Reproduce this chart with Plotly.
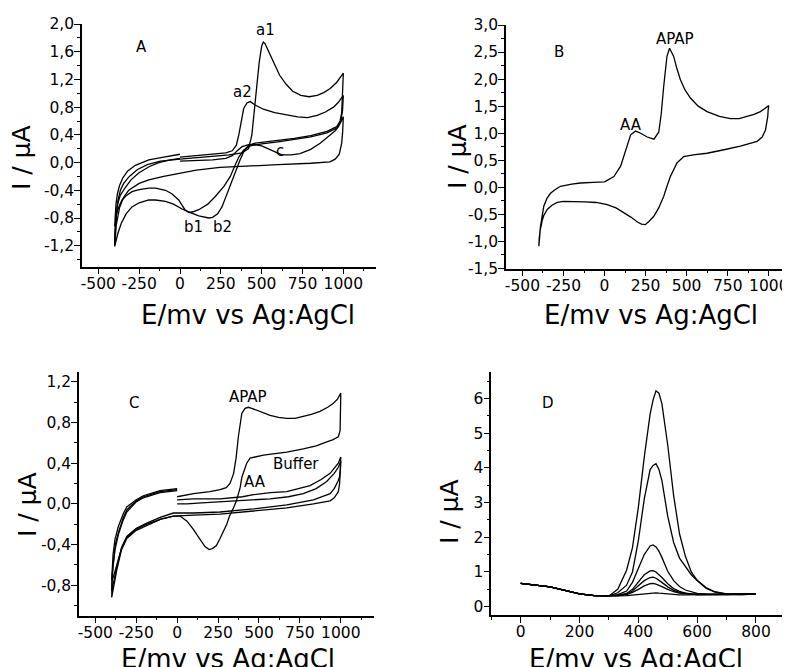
import plotly.graph_objects as go

W, H = 790, 667
OFF = 8  # the page body margin shifts the figure by this many pixels

# ---------------- Panel A : three cyclic voltammograms ----------------
a1_E = [0, 100, 200, 300, 380, 420, 440, 455, 470, 485, 500, 510, 520, 540, 570, 610, 650, 690, 740, 790, 840, 880, 920, 960, 1000,
        998, 995, 990, 980, 960, 900, 800, 700, 600, 520, 460, 420, 395, 370, 345, 320, 300, 280, 257, 230, 200, 176, 150, 115, 60, 13,
        -40, -89, -150, -191, -250, -294, -330, -360, -380, -395, -400,
        -398, -392, -382, -365, -335, -300, -253, -190, -130, -60, 0]
a1_I = [0.05, 0.07, 0.09, 0.11, 0.14, 0.2, 0.4, 0.75, 1.1, 1.45, 1.68, 1.74, 1.72, 1.62, 1.45, 1.26, 1.13, 1.03, 0.97, 0.95, 0.97, 1.01, 1.07, 1.16, 1.29,
        1.1, 0.9, 0.72, 0.6, 0.52, 0.45, 0.39, 0.35, 0.32, 0.3, 0.28, 0.25, 0.18, 0.05, -0.1, -0.25, -0.38, -0.5, -0.64, -0.74, -0.79, -0.8, -0.79, -0.77, -0.72, -0.67,
        -0.6, -0.56, -0.54, -0.54, -0.58, -0.64, -0.74, -0.88, -1.02, -1.15, -1.21,
        -1.0, -0.78, -0.6, -0.47, -0.36, -0.25, -0.15, -0.06, 0.0, 0.04, 0.06]

a2_E = [0, 100, 200, 280, 320, 345, 360, 375, 390, 410, 430, 460, 510, 580, 650, 720, 780, 840, 890, 940, 970, 1000,
        995, 985, 960, 900, 800, 700, 600, 500, 430, 390, 360, 330, 308, 270, 216, 170, 115, 80, 54, 30, -8, -50, -89, -150, -191,
        -250, -294, -330, -355, -375, -390, -400,
        -398, -392, -383, -370, -350, -320, -273, -191, -100, -28, 0]
a2_I = [0.08, 0.1, 0.12, 0.14, 0.17, 0.25, 0.4, 0.6, 0.78, 0.86, 0.88, 0.83, 0.77, 0.72, 0.69, 0.66, 0.65, 0.68, 0.73, 0.8, 0.87, 0.97,
        0.75, 0.6, 0.5, 0.43, 0.37, 0.33, 0.3, 0.27, 0.24, 0.18, 0.08, -0.08, -0.2, -0.34, -0.49, -0.6, -0.68, -0.71, -0.72, -0.68, -0.54, -0.45, -0.4, -0.37, -0.37,
        -0.39, -0.42, -0.48, -0.54, -0.64, -0.76, -0.92,
        -0.8, -0.6, -0.45, -0.33, -0.22, -0.12, -0.04, 0.04, 0.08, 0.11, 0.12]

c_E = [0, 100, 200, 280, 320, 350, 380, 420, 460, 500, 550, 590, 623, 680, 735, 800, 858, 910, 950, 970, 990, 1000,
       996, 990, 975, 950, 918, 800, 600, 400, 245, 100, 0, -100, -191, -250, -314, -345, -370, -390, -400,
       -398, -390, -380, -365, -345, -310, -260, -200, -120, 0]
c_I = [0.02, 0.03, 0.04, 0.06, 0.1, 0.17, 0.23, 0.26, 0.26, 0.24, 0.19, 0.14, 0.11, 0.11, 0.13, 0.19, 0.28, 0.38, 0.46, 0.52, 0.6, 0.66,
       0.45, 0.28, 0.12, 0.05, 0.01, -0.01, -0.03, -0.05, -0.07, -0.11, -0.15, -0.2, -0.25, -0.3, -0.4, -0.5, -0.65, -0.9, -1.2,
       -1.02, -0.75, -0.55, -0.4, -0.3, -0.2, -0.1, -0.03, 0.02, 0.05]

# ---------------- Panel B : one CV (AA + APAP) ----------------
b_E = [0, 57, 98, 128, 159, 189, 220, 260, 301, 330, 345, 360, 380, 396, 410, 421, 440, 462, 490, 523, 570, 624, 700, 766, 820, 868, 910, 949, 980, 1000,
       996, 994, 980, 960, 929, 880, 827, 720, 624, 540, 482, 441, 420, 401, 380, 360, 330, 299, 270, 248, 225, 200, 160, 118, 70, 16,
       -50, -120, -187, -250, -288, -320, -349, -370, -380, -392, -400,
       -398, -390, -380, -370, -350, -329, -300, -268, -200, -146, -70, 0]
b_I = [0.1, 0.2, 0.39, 0.69, 0.97, 1.04, 1.0, 0.93, 0.89, 1.02, 1.35, 1.86, 2.42, 2.57, 2.5, 2.42, 2.2, 1.99, 1.8, 1.65, 1.5, 1.4, 1.31, 1.27, 1.27, 1.31, 1.35, 1.4, 1.46, 1.51,
       1.42, 1.31, 1.06, 0.93, 0.85, 0.8, 0.76, 0.69, 0.63, 0.6, 0.57, 0.45, 0.33, 0.2, 0.02, -0.17, -0.38, -0.54, -0.63, -0.69, -0.68, -0.64, -0.55, -0.47, -0.38, -0.32,
       -0.28, -0.27, -0.26, -0.26, -0.28, -0.33, -0.41, -0.52, -0.62, -0.8, -1.09,
       -0.95, -0.72, -0.5, -0.35, -0.2, -0.11, -0.04, 0.02, 0.06, 0.08, 0.09, 0.1]

# ---------------- Panel C : APAP, Buffer, AA ----------------
capap_E = [0, 100, 200, 262, 300, 323, 345, 360, 374, 385, 395, 415, 435, 456, 500, 568, 620, 670, 720, 771, 820, 873, 920, 955, 980, 1000,
           998, 996, 985, 950, 914, 850, 771, 670, 527, 446, 425, 410, 395, 385, 374, 360, 344, 320, 303, 282, 262, 240, 215, 195, 170, 140, 99, 60, 18,
           -23, -100, -186, -250, -308, -340, -369, -390, -400,
           -398, -392, -380, -359, -330, -308, -250, -207, -105, 0]
capap_I = [0.07, 0.1, 0.12, 0.14, 0.16, 0.2, 0.3, 0.45, 0.66, 0.8, 0.89, 0.94, 0.95, 0.94, 0.91, 0.87, 0.85, 0.84, 0.84, 0.86, 0.88, 0.91, 0.95, 0.99, 1.03, 1.09,
           0.9, 0.72, 0.66, 0.63, 0.61, 0.57, 0.54, 0.51, 0.48, 0.45, 0.4, 0.34, 0.26, 0.16, 0.09, 0.02, -0.04, -0.12, -0.2, -0.28, -0.34, -0.41, -0.44, -0.45, -0.42, -0.35, -0.25, -0.17, -0.12,
           -0.12, -0.15, -0.2, -0.25, -0.33, -0.44, -0.6, -0.72, -0.75,
           -0.65, -0.5, -0.35, -0.22, -0.1, -0.03, 0.04, 0.08, 0.13, 0.15]

cbuf_E = [0, 60, 150, 262, 400, 568, 680, 771, 850, 914, 960, 985, 1000,
          998, 993, 985, 960, 935, 833, 670, 466, 262, 100, -23, -100, -186, -250, -308, -340, -369, -390, -400,
          -398, -392, -380, -359, -330, -308, -250, -207, -105, 0]
cbuf_I = [0.0, 0.0, 0.01, 0.02, 0.03, 0.05, 0.07, 0.1, 0.15, 0.22, 0.3, 0.36, 0.42,
          0.3, 0.2, 0.12, 0.06, 0.03, 0.0, -0.04, -0.07, -0.1, -0.11, -0.12, -0.15, -0.21, -0.26, -0.34, -0.45, -0.65, -0.85, -0.92,
          -0.78, -0.62, -0.45, -0.3, -0.16, -0.08, 0.02, 0.06, 0.11, 0.13]

caa_E = [0, 100, 262, 400, 466, 570, 670, 750, 812, 880, 935, 985, 1000,
         998, 993, 985, 960, 935, 833, 670, 466, 262, 100, -23, -100, -186, -250, -308, -340, -369, -390, -400,
         -398, -390, -378, -359, -330, -308, -250, -207, -105, 0]
caa_I = [0.04, 0.05, 0.05, 0.07, 0.09, 0.11, 0.12, 0.15, 0.18, 0.24, 0.3, 0.4, 0.46,
         0.35, 0.27, 0.23, 0.15, 0.1, 0.04, -0.01, -0.05, -0.08, -0.09, -0.09, -0.13, -0.19, -0.24, -0.32, -0.43, -0.62, -0.8, -0.86,
         -0.7, -0.55, -0.4, -0.28, -0.14, -0.06, 0.03, 0.07, 0.12, 0.14]

# ---------------- Panel D : differential pulse voltammograms ----------------
d_E = [0, 50, 100, 150, 200, 250, 300, 330, 360, 380, 400, 420, 440, 450, 460, 470, 480, 500, 520, 540, 560, 580, 600, 630, 660, 700, 750, 800]
d_base = [0.67, 0.63, 0.57, 0.47, 0.37, 0.32, 0.31]
d_curves = [
    d_base + [0.5, 1.05, 1.7, 2.86, 4.3, 5.55, 5.95, 6.22, 6.15, 5.85, 4.65, 3.2, 2.1, 1.45, 1.0, 0.76, 0.55, 0.43, 0.37, 0.36, 0.37],
    d_base + [0.4, 0.62, 1.0, 1.9, 3.1, 3.95, 4.07, 4.12, 3.95, 3.64, 2.6, 1.85, 1.4, 1.15, 0.92, 0.75, 0.53, 0.42, 0.36, 0.35, 0.36],
    d_base + [0.35, 0.45, 0.7, 1.1, 1.5, 1.75, 1.78, 1.72, 1.6, 1.42, 1.02, 0.75, 0.58, 0.48, 0.42, 0.38, 0.36, 0.35, 0.35, 0.35, 0.36],
    d_base + [0.33, 0.38, 0.5, 0.72, 0.92, 1.03, 1.04, 1.0, 0.93, 0.84, 0.66, 0.52, 0.44, 0.39, 0.37, 0.36, 0.35, 0.35, 0.35, 0.35, 0.36],
    d_base + [0.32, 0.36, 0.45, 0.6, 0.75, 0.84, 0.85, 0.82, 0.77, 0.7, 0.57, 0.47, 0.41, 0.38, 0.36, 0.35, 0.35, 0.35, 0.35, 0.35, 0.36],
    d_base + [0.32, 0.35, 0.41, 0.5, 0.6, 0.66, 0.67, 0.65, 0.62, 0.58, 0.5, 0.43, 0.39, 0.37, 0.35, 0.35, 0.35, 0.35, 0.35, 0.35, 0.36],
    d_base + [0.31, 0.32, 0.34, 0.36, 0.38, 0.4, 0.4, 0.4, 0.39, 0.38, 0.36, 0.35, 0.34, 0.34, 0.34, 0.34, 0.34, 0.34, 0.35, 0.35, 0.36],
]

# ---------------- tick labels ----------------
cv_xticks = [-500, -250, 0, 250, 500, 750, 1000]
cv_xtext = ["-500", "-250", "0", "250", "500", "750", "1000"]
a_yticks = [-1.2, -0.8, -0.4, 0.0, 0.4, 0.8, 1.2, 1.6, 2.0]
a_ytext = ["-1,2", "-0,8", "-0,4", "0,0", "0,4", "0,8", "1,2", "1,6", "2,0"]
b_yticks = [-1.5, -1.0, -0.5, 0.0, 0.5, 1.0, 1.5, 2.0, 2.5, 3.0]
b_ytext = ["-1,5", "-1,0", "-0,5", "0,0", "0,5", "1,0", "1,5", "2,0", "2,5", "3,0"]
c_yticks = [-0.8, -0.4, 0.0, 0.4, 0.8, 1.2]
c_ytext = ["-0,8", "-0,4", "0,0", "0,4", "0,8", "1,2"]
d_xticks = [0, 200, 400, 600, 800]
d_xtext = ["0", "200", "400", "600", "800"]
d_yticks = [0, 1, 2, 3, 4, 5, 6]
d_ytext = ["0", "1", "2", "3", "4", "5", "6"]

FONT = "DejaVu Sans"
LINE = dict(color="black", width=1.3)

fig = go.Figure()

def add(x, y, xa, ya):
    fig.add_trace(go.Scatter(x=x, y=y, mode="lines", line=LINE, xaxis=xa, yaxis=ya,
                             showlegend=False, hoverinfo="skip"))

for E, I in [(a1_E, a1_I), (a2_E, a2_I), (c_E, c_I)]:
    add(E, I, "x", "y")
add(b_E, b_I, "x2", "y2")
for E, I in [(capap_E, capap_I), (cbuf_E, cbuf_I), (caa_E, caa_I)]:
    add(E, I, "x3", "y3")
for I in d_curves:
    add(d_E, I, "x4", "y4")

def fx(px):
    return (px - OFF) / W

def fy(py):
    return 1 - (py - OFF) / H

def px_dom_x(a, b):
    return [max(fx(a), 0.0), min(fx(b), 1.0)]

def px_dom_y(top, bottom):
    return [fy(bottom), fy(top)]

def axis(domain, rng, tv, tt, minor_dtick, anchor, standoff):
    return dict(domain=domain, range=rng, tickmode="array", tickvals=tv, ticktext=tt,
                ticks="outside", ticklen=6, tickwidth=1.2, tickcolor="black",
                ticklabelstandoff=standoff,
                minor=dict(ticks="outside", ticklen=3, tickwidth=1, tickcolor="black",
                           dtick=minor_dtick, tick0=0, showgrid=False),
                showline=True, linecolor="black", linewidth=1.5, mirror=False,
                showgrid=False, zeroline=False, anchor=anchor, automargin=False,
                tickfont=dict(family=FONT, size=15.5, color="black"))

fig.update_layout(
    width=W, height=H, margin=dict(l=0, r=0, t=0, b=0, autoexpand=False),
    paper_bgcolor="white", plot_bgcolor="white",
    xaxis=axis(px_dom_x(82, 376), [-600, 1200], cv_xticks, cv_xtext, 125, "y", -4),
    yaxis=axis(px_dom_y(24, 266.5), [-1.5, 2.0], a_yticks, a_ytext, 0.2, "x", -3),
    xaxis2=axis(px_dom_x(506, 798), [-600, 1178], cv_xticks, cv_xtext, 125, "y2", -4),
    yaxis2=axis(px_dom_y(25, 268.5), [-1.5, 3.0], b_yticks, b_ytext, 0.25, "x2", -3),
    xaxis3=axis(px_dom_x(79, 373.5), [-600, 1200], cv_xticks, cv_xtext, 125, "y3", -4),
    yaxis3=axis(px_dom_y(371.7, 615.7), [-1.1, 1.3], c_yticks, c_ytext, 0.2, "x3", -3),
    xaxis4=axis(px_dom_x(491.3, 785.4), [-100, 900], d_xticks, d_xtext, 100, "y4", -4),
    yaxis4=axis(px_dom_y(371.7, 615), [-0.24, 6.77], d_yticks, d_ytext, 0.5, "x4", -3),
)

def note(text, px, py, size=15, angle=0):
    fig.add_annotation(text=text, x=fx(px), y=fy(py), xref="paper", yref="paper",
                       showarrow=False, xanchor="center", yanchor="middle", textangle=angle,
                       font=dict(family=FONT, size=size, color="black"))

# axis titles (the bottom ones run off the lower edge, as in the original figure)
for cx, cy in [(248, 315), (651, 315), (228, 659), (636, 659)]:
    note("E/mv vs Ag:AgCl", cx, cy, size=26)
for cx, cy in [(21, 158), (457, 157), (27, 505), (449, 512)]:
    note("I / µA", cx, cy, size=25, angle=-90)

# panel letters and curve labels
note("A", 141, 47); note("B", 559, 52); note("C", 134, 403); note("D", 548, 403)
note("a1", 265, 30); note("a2", 242, 92); note("b1", 193, 227); note("b2", 222, 227); note("c", 280, 151)
note("AA", 631, 125); note("APAP", 675, 39)
note("APAP", 248, 397); note("Buffer", 296, 464); note("AA", 255, 482)

fig.write_html("out.html")
